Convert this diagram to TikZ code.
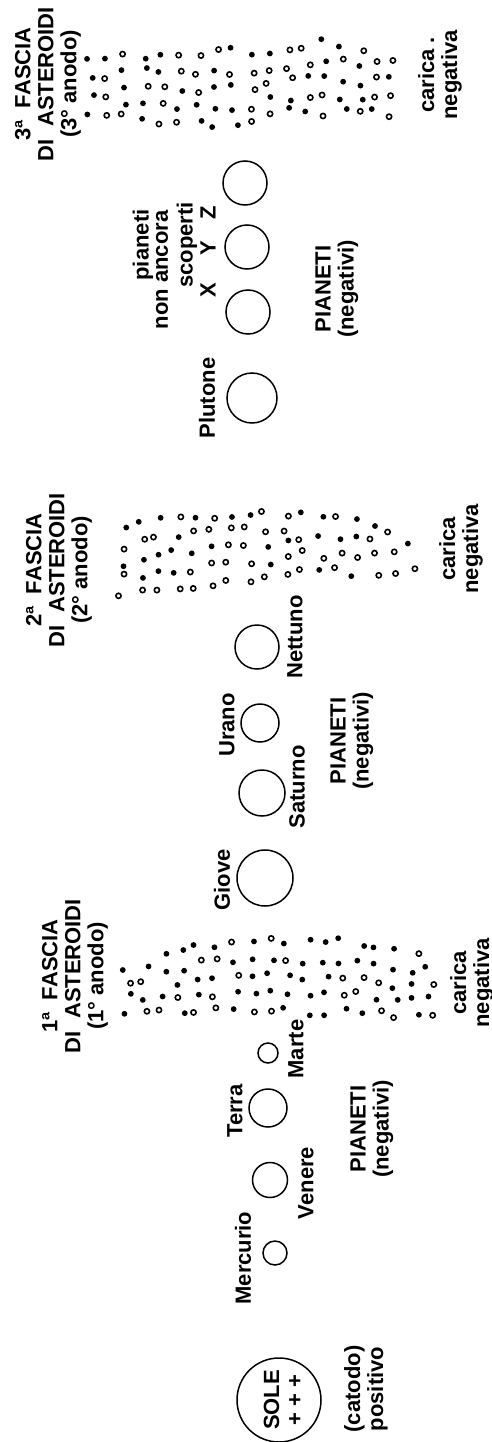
\documentclass[tikz,border=0pt]{standalone}
\usepackage{fontspec}
\setmainfont{Liberation Sans}
\newcommand\asterbelt[2]{%
  \foreach \cx/\ct/\cb in {#1} {%
    \pgfmathtruncatemacro\nr{max(1,round((\cb-\ct)/17))}%
    \foreach \r in {0,...,\nr} {%
      \pgfmathsetmacro\xx{\cx+5*rand}%
      \pgfmathsetmacro\yy{\ct+\r*(\cb-\ct)/\nr+4.5*rand}%
      \pgfmathsetmacro\pp{rnd}%
      \ifdim\pp pt<#2pt
        \fill (\xx,\yy) circle[radius=2.9];
      \else
        \draw[line width=1.6pt] (\xx,\yy) circle[radius=2.6];
      \fi
    }%
  }%
}
\begin{document}
\begin{tikzpicture}[x=1pt,y=-1pt,
  txt/.style={font=\bfseries\fontsize{22}{23}\selectfont, rotate=90, inner sep=0pt, align=center},
  orb/.style={circle, draw, line width=1.5pt, inner sep=0pt, minimum size=#1}]
\useasboundingbox[fill=white] (0,0) rectangle (492,1442);
\pgfmathsetseed{12}
% Sun
\node[orb=84pt] (sole) at (279,1400) {};
\node[txt] (soletxt) at (283,1400) {SOLE\\+ + +};
\node[txt] (catodo) at (366,1389) {(catodo)\\positivo};
% inner planets
\node[orb=24pt] (mercurio) at (275,1253) {};
\node[txt] (lmercurio) at (243,1258) {Mercurio};
\node[orb=35pt] (venere) at (270,1180) {};
\node[txt] (lvenere) at (306,1183) {Venere};
\node[orb=38pt] (terra) at (268,1108) {};
\node[txt] (lterra) at (235,1111) {Terra};
\node[orb=20pt] (marte) at (268,1053) {};
\node[txt] (lmarte) at (296,1049) {Marte};
\node[txt] (pian1) at (372,1129) {PIANETI\\(negativi)};
% belt 1
\node[txt] (fascia1) at (75,976) {1ª\ \ FASCIA\\DI\ \ ASTEROIDI\\(1° anodo)};
\node[txt] (carica1) at (472,983) {carica\\negativa};
\asterbelt{126/968/1013,144/962/1013,162/955/1013,180/951/1013,198/948/1013,216/946/1012,234/944/1012,252/942/1011,270/942/1011,288/942/1011,306/942/1011,324/942/1012,342/942/1013,360/942/1014,378/943/1015,396/952/1016,414/956/1017,430/966/1017}{0.8}
% outer planets
\node[orb=56pt] (giove) at (265,878) {};
\node[txt] (lgiove) at (222,880) {Giove};
\node[orb=46pt] (saturno) at (262,793) {};
\node[txt] (lsaturno) at (297,787) {Saturno};
\node[orb=38pt] (urano) at (260,723) {};
\node[txt] (lurano) at (227,725) {Urano};
\node[orb=44pt] (nettuno) at (257,647) {};
\node[txt] (lnettuno) at (295,637) {Nettuno};
\node[txt] (pian2) at (352,741) {PIANETI\\(negativi)};
% belt 2
\node[txt] (fascia2) at (59,570) {2ª\ \ FASCIA\\DI\ \ ASTEROIDI\\(2° anodo)};
\node[txt] (carica2) at (461,549) {carica\\negativa};
\asterbelt{122/532/593,140/526/593,158/522/590,176/519/587,194/518/585,212/517/583,230/516/581,248/514/579,266/513/577,284/514/575,302/516/574,320/518/573,338/520/572,356/521/572,374/523/571,392/530/571,410/545/570}{0.35}
% Pluto and beyond
\node[orb=50pt] (plutone) at (252,398) {};
\node[txt] (lplutone) at (207,398) {Plutone};
\node[orb=44pt] (px) at (248,312) {};
\node[orb=44pt] (py) at (247,247) {};
\node[orb=44pt] (pz) at (245,183) {};
\node[txt] (lpianeti) at (143,245) {pianeti};
\node[txt] (lnon) at (162,270) {non ancora};
\node[txt] (lscop) at (187,245) {scoperti};
\node[txt] (lx) at (208,290) {X};
\node[txt] (ly) at (208,248) {Y};
\node[txt] (lz) at (208,213) {Z};
\node[txt] (pian3) at (337,289) {PIANETI\\(negativi)};
% belt 3
\node[txt] (fascia3) at (48,84) {3ª\ \ FASCIA\\DI\ \ ASTEROIDI\\(3° anodo)};
\node[txt] (carica3) at (440,75) {carica .\\negativa};
\asterbelt{90/60/110,108/59/116,126/57/118,144/55/118,162/53/121,180/54/122,198/55/124,216/53/125,234/51/127,252/51/123,270/52/116,288/50/112,306/47/112,324/43/112,342/46/113,360/53/113,376/58/113,390/63/113}{0.5}
\end{tikzpicture}
\end{document}
